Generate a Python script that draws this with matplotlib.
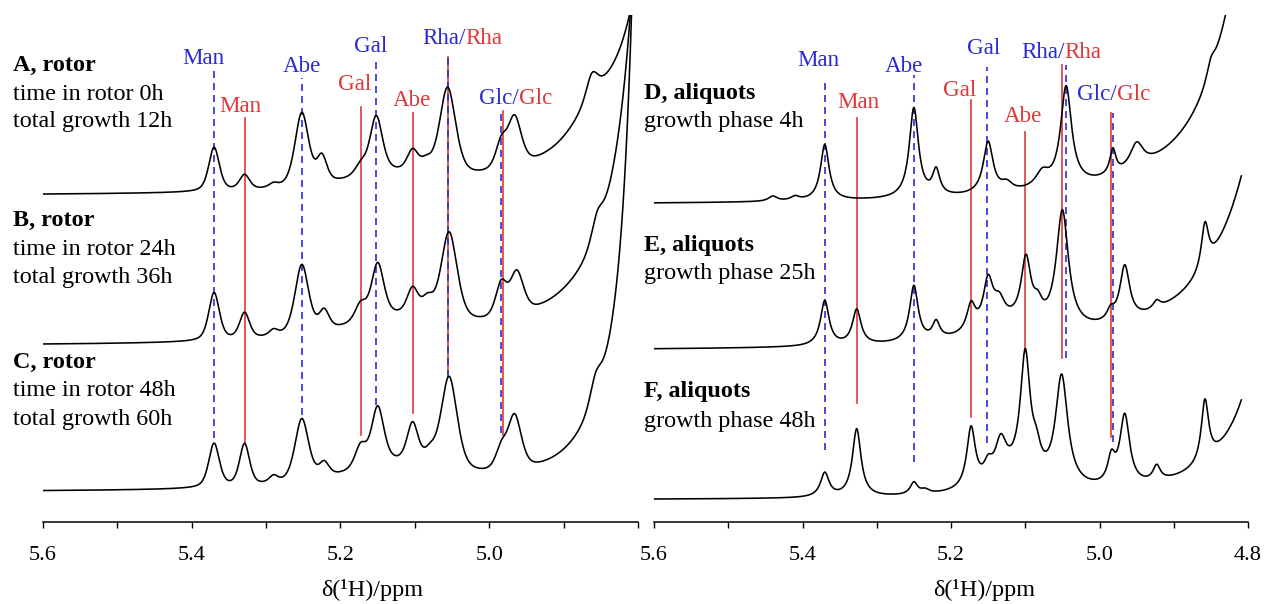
import matplotlib.pyplot as plt
import numpy as np
from matplotlib.ticker import MultipleLocator

plt.rcParams['font.family'] = ['Liberation Serif', 'DejaVu Serif']

W, H = 1267, 604

# Signals: (shift in ppm, height, half width in ppm).
# Heights are pixels above the axis line. "bg" lists are broad Lorentzian
# components (water tail, humps), "pk" lists are the resolved signals.
a_offset = 326
a_bg = [(4.74, 700, 0.04), (4.86, 32, 0.04), (5.14, 14, 0.06)]
a_pk = [(5.370, 44, 0.0085), (5.329, 15, 0.008), (5.290, 4, 0.007),
        (5.252, 74, 0.011), (5.225, 26, 0.008), (5.173, 10, 0.009),
        (5.152, 57, 0.010), (5.103, 22, 0.009), (5.085, 10, 0.009),
        (5.056, 90, 0.013), (4.984, 25, 0.009), (4.966, 50, 0.011),
        (4.862, 22, 0.009)]

b_offset = 176
b_bg = [(4.77, 900, 0.03), (4.85, 12, 0.08), (5.13, 20, 0.08)]
b_pk = [(5.370, 48, 0.0085), (5.329, 26, 0.008), (5.290, 6, 0.007),
        (5.252, 70, 0.011), (5.222, 19, 0.008), (5.173, 17, 0.009),
        (5.150, 55, 0.010), (5.103, 27, 0.009), (5.083, 16, 0.009),
        (5.054, 90, 0.013), (4.984, 33, 0.009), (4.963, 43, 0.011),
        (4.855, 21, 0.009)]

c_offset = 30
c_bg = [(4.785, 1125, 0.02), (4.85, 15, 0.04), (5.13, 22, 0.08)]
c_pk = [(5.370, 44, 0.0085), (5.329, 42, 0.008), (5.290, 7, 0.007),
        (5.252, 63, 0.011), (5.222, 14, 0.008), (5.173, 22, 0.009),
        (5.150, 58, 0.010), (5.103, 40, 0.009), (5.080, 11, 0.009),
        (5.054, 95, 0.013), (4.984, 20, 0.009), (4.966, 55, 0.011),
        (4.857, 22, 0.009)]

d_offset = 317
d_bg = [(4.76, 560, 0.05)]
d_pk = [(5.440, 5, 0.007), (5.410, 4, 0.007), (5.370, 56, 0.007),
        (5.250, 90, 0.0075), (5.220, 25, 0.006), (5.150, 52, 0.008),
        (5.125, 8, 0.009), (5.077, 15, 0.011), (5.045, 100, 0.009),
        (4.982, 25, 0.005), (4.950, 25, 0.011), (4.850, 15, 0.007)]

e_offset = 171
e_bg = [(4.74, 403, 0.06), (5.12, 15, 0.05)]
e_pk = [(5.370, 45, 0.007), (5.327, 35, 0.007), (5.250, 56, 0.007),
        (5.220, 17, 0.006), (5.173, 27, 0.007), (5.150, 46, 0.008),
        (5.135, 20, 0.009), (5.099, 63, 0.008), (5.083, 15, 0.007),
        (5.050, 118, 0.010), (4.985, 10, 0.006), (4.966, 55, 0.008),
        (4.923, 8, 0.006), (4.858, 45, 0.006)]

f_offset = 22
f_bg = [(4.75, 312, 0.04), (5.115, 18, 0.04)]
f_pk = [(5.370, 24, 0.007), (5.327, 68, 0.007), (5.250, 12, 0.006),
        (5.235, 4, 0.007), (5.173, 60, 0.007), (5.150, 15, 0.007),
        (5.133, 35, 0.009), (5.100, 120, 0.008), (5.085, 20, 0.007),
        (5.051, 110, 0.010), (4.984, 25, 0.006), (4.966, 70, 0.008),
        (4.923, 15, 0.006), (4.858, 62, 0.006)]

# Lorentzian fraction of the line shape in each panel
left_eta = 0.5
right_eta = 1.0

# assignment lines: shift, top, bottom (pixels above axis line)
left_blue = [(5.370, 454, 84), (5.252, 444, 107), (5.152, 464, 117),
             (5.055, 465, 145), (4.984, 410, 89)]
left_red = [(5.329, 404, 79), (5.173, 415, 87), (5.103, 409, 109),
            (5.056, 465, 149), (4.981, 411, 87)]
right_blue = [(5.370, 440, 72), (5.250, 447, 60), (5.152, 455, 79),
              (5.045, 457, 164), (4.982, 409, 80)]
right_red = [(5.327, 404, 119), (5.173, 422, 105), (5.101, 390, 170),
             (5.050, 457, 164), (4.985, 409, 85)]

# peak labels: text, shift of centre, height of centre
left_blue_labels = [('Man', 5.385, 464), ('Abe', 5.252, 455), ('Gal', 5.160, 475)]
left_red_labels = [('Man', 5.334, 415), ('Gal', 5.181, 437), ('Abe', 5.104, 422)]
left_pairs = [('Rha', 5.032, 484), ('Glc', 4.960, 423)]
right_blue_labels = [('Man', 5.378, 462), ('Abe', 5.264, 455), ('Gal', 5.156, 474)]
right_red_labels = [('Man', 5.325, 419), ('Gal', 5.189, 432), ('Abe', 5.103, 405)]
right_pairs = [('Rha', 5.047, 469), ('Glc', 4.977, 427)]

left_notes = [('A, rotor', 'time in rotor 0h', 'total growth 12h', 65),
              ('B, rotor', 'time in rotor 24h', 'total growth 36h', 220),
              ('C, rotor', 'time in rotor 48h', 'total growth 60h', 362)]
right_notes = [('D, aliquots', 'growth phase 4h', None, 93),
               ('E, aliquots', 'growth phase 25h', None, 245),
               ('F, aliquots', 'growth phase 48h', None, 392)]

BLUE = '#2b2bd6'
RED = '#e03838'


def spectrum(ppm, offset, bg, peaks, eta):
    y = np.full_like(ppm, float(offset))
    for x0, h, g in bg:
        y += h * g ** 2 / ((ppm - x0) ** 2 + g ** 2)
    for x0, h, g in peaks:
        lor = g ** 2 / ((ppm - x0) ** 2 + g ** 2)
        gau = np.exp(-np.log(2) * ((ppm - x0) / g) ** 2)
        y += h * (eta * lor + (1 - eta) * gau)
    return y


def setup_axis(ax, label_last=True):
    ax.set_xlim(5.6, 4.8)
    ax.set_ylim(0, 507)
    for side in ('left', 'right', 'top'):
        ax.spines[side].set_visible(False)
    ax.spines['bottom'].set_linewidth(1.1)
    ax.set_yticks([])
    ax.xaxis.set_minor_locator(MultipleLocator(0.1))
    ax.tick_params(axis='x', which='both', direction='out', length=4.5,
                   width=1.0, labelsize=16, pad=13)
    ticks = [5.6, 5.4, 5.2, 5.0, 4.8]
    ax.set_xticks(ticks)
    ax.set_xticklabels([f'{t:.1f}' if (label_last or t > 4.85) else ''
                        for t in ticks])
    ax.patch.set_alpha(0)


def draw_lines(ax, blue, red):
    for x0, top, bot in red:
        ax.plot([x0, x0], [bot, top], color=RED, lw=1.2, zorder=2)
    for x0, top, bot in blue:
        ax.plot([x0, x0], [bot, top], color=BLUE, lw=1.2,
                dashes=(4.2, 3.0), zorder=3)


def draw_labels(ax, blue_lab, red_lab, pairs):
    kw = dict(fontsize=16.6, ha='center', va='center')
    for s, x0, y0 in blue_lab:
        ax.text(x0, y0, s, color=BLUE, **kw)
    for s, x0, y0 in red_lab:
        ax.text(x0, y0, s, color=RED, **kw)
    for s, x0, y0 in pairs:
        ax.text(x0, y0, s + '/', color=BLUE, fontsize=16.6, ha='right', va='center')
        ax.text(x0, y0, s, color=RED, fontsize=16.6, ha='left', va='center')


fig = plt.figure(figsize=(W / 100, H / 100), dpi=100)
bottom = 1 - 522 / H
height = 507 / H
ax_l = fig.add_axes([43 / W, bottom, 595 / W, height])
ax_r = fig.add_axes([654 / W, bottom, 594 / W, height])

ppm_l = np.linspace(5.6, 4.805, 1600)
ppm_r = np.linspace(5.6, 4.809, 1600)

for off, bg, pk in [(a_offset, a_bg, a_pk), (b_offset, b_bg, b_pk),
                    (c_offset, c_bg, c_pk)]:
    ax_l.plot(ppm_l, spectrum(ppm_l, off, bg, pk, left_eta),
              color='black', lw=1.15, zorder=4)
for off, bg, pk in [(d_offset, d_bg, d_pk), (e_offset, e_bg, e_pk),
                    (f_offset, f_bg, f_pk)]:
    ax_r.plot(ppm_r, spectrum(ppm_r, off, bg, pk, right_eta),
              color='black', lw=1.15, zorder=4)

setup_axis(ax_l, label_last=False)
setup_axis(ax_r)
draw_lines(ax_l, left_blue, left_red)
draw_lines(ax_r, right_blue, right_red)
draw_labels(ax_l, left_blue_labels, left_red_labels, left_pairs)
draw_labels(ax_r, right_blue_labels, right_red_labels, right_pairs)

for x_px, notes in [(13, left_notes), (644, right_notes)]:
    for head, l1, l2, y_px in notes:
        fig.text(x_px / W, 1 - y_px / H, head, fontsize=17.4,
                 fontweight='bold', va='center', ha='left')
        fig.text(x_px / W, 1 - (y_px + 29) / H, l1, fontsize=17.4,
                 va='center', ha='left')
        if l2:
            fig.text(x_px / W, 1 - (y_px + 57) / H, l2, fontsize=17.4,
                     va='center', ha='left')

for x_px in (372, 984):
    fig.text(x_px / W, 1 - 590 / H, 'δ(¹H)/ppm', fontsize=17.4,
             ha='center', va='center')

fig.savefig('out.png', dpi=100)
